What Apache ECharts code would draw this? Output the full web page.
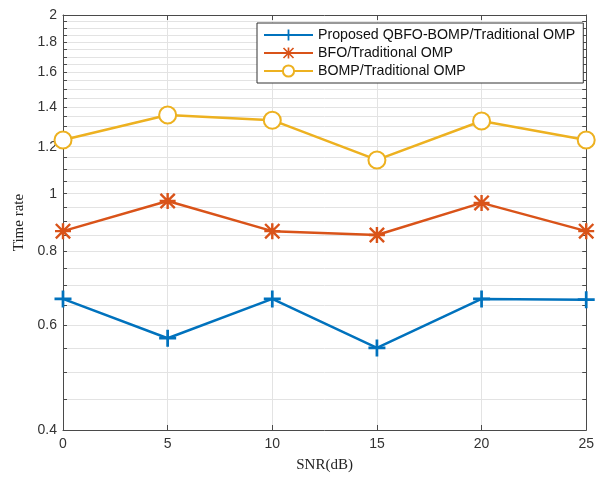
<!DOCTYPE html>
<html><head><meta charset="utf-8">
<script src="https://cdn.jsdelivr.net/npm/echarts@6/dist/echarts.min.js"></script>
<style>html,body{margin:0;padding:0;background:#fff}#c{width:597px;height:478px}</style>
</head><body><div id="c"></div>
<script>
const snr = [0, 5, 10, 15, 20, 25];
const seriesNames = ['Proposed QBFO-BOMP/Traditional OMP', 'BFO/Traditional OMP', 'BOMP/Traditional OMP'];
const qbfoBomp = [0.665, 0.571, 0.665, 0.550, 0.665, 0.663];
const bfo = [0.865, 0.972, 0.865, 0.852, 0.965, 0.865];
const bomp = [1.232, 1.357, 1.330, 1.140, 1.326, 1.232];
const yLabelValues = [0.4, 0.6, 0.8, 1, 1.2, 1.4, 1.6, 1.8, 2];
const yGridValues = [0.4,0.45,0.5,0.55,0.6,0.65,0.7,0.75,0.8,0.85,0.9,0.95,1,1.05,1.1,1.15,1.2,1.25,1.3,1.35,1.4,1.45,1.5,1.55,1.6,1.65,1.7,1.75,1.8,1.85,1.9,1.95,2];

const plusPath = 'path://M8.4,0h3.2v20h-3.2zM0,8.4h20v3.2h-20z';
const starPath = 'path://M8.5,0h3v20h-3zM0,8.5h20v3h-20zM2.1,0L20,17.9L17.9,20L0,2.1zM17.9,0L20,2.1L2.1,20L0,17.9z';

const axisColor = '#4a4a4a';
const gridColor = '#e3e3e3';
const fontSans = 'Liberation Sans, Arial, sans-serif';
const fontSerif = 'Liberation Serif, Times New Roman, serif';

const chart = echarts.init(document.getElementById('c'), null, {renderer: 'canvas'});
function mk(name, data, color, symbol, size) {
  return {
    name: name, type: 'line', data: snr.map((x, i) => [x, data[i]]),
    symbol: symbol, symbolSize: size, showAllSymbol: true,
    lineStyle: {color: color, width: 2.5},
    itemStyle: {color: color, borderColor: color, borderWidth: symbol === 'emptyCircle' ? 2.4 : 0},
    emphasis: {disabled: true}, animation: false, z: 3
  };
}
const tickStyle = {show: true, inside: true, lineStyle: {color: axisColor, width: 1}};
chart.setOption({
  animation: false,
  grid: {left: 63, right: 7, top: 15, bottom: 48, containLabel: false},
  legend: {
    orient: 'vertical', left: 257, top: 23,
    itemWidth: 49, itemHeight: 14, itemGap: 4,
    padding: [5, 8, 5, 6],
    backgroundColor: '#fff', borderColor: '#333', borderWidth: 1,
    textStyle: {fontFamily: fontSans, fontSize: 14.2, color: '#111', padding: [0,0,0,0]},
    data: seriesNames
  },
  xAxis: [{
    type: 'value', min: 0, max: 25, interval: 5,
    name: 'SNR(dB)', nameLocation: 'middle', nameGap: 28,
    nameTextStyle: {fontFamily: fontSerif, fontSize: 15, color: '#222'},
    axisLine: {show: true, onZero: false, lineStyle: {color: axisColor, width: 1}},
    axisTick: Object.assign({length: 5}, tickStyle),
    axisLabel: {fontFamily: fontSans, fontSize: 14, color: '#333', margin: 7},
    splitLine: {show: true, lineStyle: {color: gridColor, width: 1}}
  }, {
    type: 'value', min: 0, max: 25, interval: 5, position: 'top',
    axisLine: {show: true, onZero: false, lineStyle: {color: axisColor, width: 1}},
    axisTick: Object.assign({length: 5}, tickStyle),
    axisLabel: {show: false}, splitLine: {show: false}
  }],
  yAxis: [{
    type: 'log', logBase: 10, min: 0.4, max: 2, position: 'left',
    name: 'Time rate', nameLocation: 'middle', nameGap: 33,
    nameTextStyle: {fontFamily: fontSerif, fontSize: 15, color: '#222'},
    axisLine: {show: true, onZero: false, lineStyle: {color: axisColor, width: 1}},
    axisTick: Object.assign({length: 4, customValues: yGridValues}, tickStyle),
    axisLabel: {fontFamily: fontSans, fontSize: 14, color: '#333', margin: 6, customValues: yLabelValues,
      formatter: v => String(Math.round(v * 100) / 100)},
    splitLine: {show: true, lineStyle: {color: gridColor, width: 1}},
    minorTick: {show: false}, minorSplitLine: {show: false}
  }, {
    type: 'log', logBase: 10, min: 0.4, max: 2, position: 'right',
    axisLine: {show: true, onZero: false, lineStyle: {color: axisColor, width: 1}},
    axisTick: Object.assign({length: 4, customValues: yGridValues}, tickStyle),
    axisLabel: {show: false}, splitLine: {show: false}
  }],
  series: [
    mk(seriesNames[0], qbfoBomp, '#0072BD', plusPath, 17),
    mk(seriesNames[1], bfo, '#D95319', starPath, 16),
    mk(seriesNames[2], bomp, '#EDB120', 'emptyCircle', 17)
  ]
});
</script></body></html>
